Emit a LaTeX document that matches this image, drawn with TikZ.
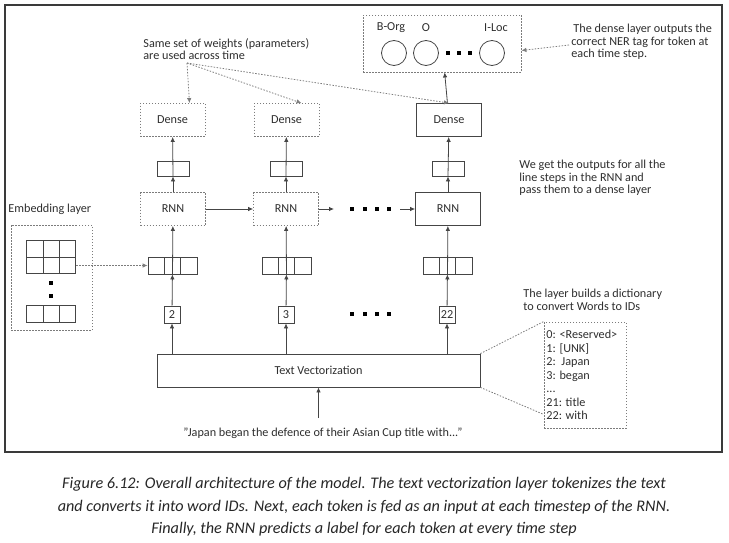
\documentclass[tikz,border=0pt]{standalone}
\usepackage{fontspec}
\setmainfont{Carlito}
\usetikzlibrary{arrows.meta,calc}
\definecolor{linegray}{HTML}{454545}
\definecolor{boxgray}{HTML}{7C7C7C}
\definecolor{textgray}{HTML}{2E2E2E}
\definecolor{framegray}{HTML}{3A3A3A}
\newcommand{\pbb}{path picture bounding box}
\begin{document}
\begin{tikzpicture}[x=1pt, y=-1pt, line width=0.8pt, draw=linegray, text=textgray,
    every node/.style={font=\fontsize{12.2}{12.5}\selectfont, inner sep=0pt},
    layer/.style={rectangle, draw=linegray, minimum width=65pt, minimum height=33pt},
    shared/.style={layer, draw=boxgray, dash pattern=on 1.5pt off 1.5pt},
    outvec/.style={rectangle, draw=linegray, minimum width=32pt, minimum height=15pt},
    vec/.style={rectangle, draw=linegray, minimum width=49pt, minimum height=17pt,
        path picture={
            \draw[linegray] ($(\pbb.north west)!1/3!(\pbb.north east)$) -- ($(\pbb.south west)!1/3!(\pbb.south east)$);
            \draw[linegray] ($(\pbb.north west)!2/3!(\pbb.north east)$) -- ($(\pbb.south west)!2/3!(\pbb.south east)$);}},
    grid/.style={rectangle, draw=linegray, minimum width=49pt, minimum height=33pt,
        path picture={
            \draw[linegray] ($(\pbb.north west)!1/3!(\pbb.north east)$) -- ($(\pbb.south west)!1/3!(\pbb.south east)$);
            \draw[linegray] ($(\pbb.north west)!2/3!(\pbb.north east)$) -- ($(\pbb.south west)!2/3!(\pbb.south east)$);
            \draw[linegray] (\pbb.west) -- (\pbb.east);}},
    token/.style={rectangle, draw=linegray, minimum width=16pt, minimum height=17pt},
    unit/.style={circle, draw=linegray, minimum size=25pt},
    dot/.style={rectangle, fill=black, minimum size=3.2pt},
    note/.style={align=left, anchor=north west},
    arr/.style={-{Latex[length=5pt, width=4.5pt]}},
    hint/.style={arr, dash pattern=on 1.5pt off 1.5pt, draw=boxgray}]

\useasboundingbox (0,0) rectangle (729,543);
\draw[line width=2pt, draw=framegray] (5,5) rectangle (722,452);

% output units
\node[shared, minimum width=158pt, minimum height=57pt] (out) at (442,43.5) {};
\node (borg) at (394,53) [unit] {};
\node (o) at (426,53) [unit] {};
\node (iloc) at (492,53) [unit] {};
\node at (391,28) {B-Org};
\node at (426,28) {O};
\node at (496,28) {I-Loc};
\node[dot] at (448,53) {};
\node[dot] at (459,53) {};
\node[dot] at (470,53) {};

% dense layers
\node[shared] (dense1) at (172.5,120) {Dense};
\node[shared] (dense2) at (286.5,120) {Dense};
\node[layer] (dense3) at (449,120) {Dense};

\node[outvec] (h1) at (173,168.5) {};
\node[outvec] (h2) at (286,168.5) {};
\node[outvec] (h3) at (448,168.5) {};

% rnn cells
\node[shared] (rnn1) at (173,209) {RNN};
\node[shared] (rnn2) at (286,209) {RNN};
\node[layer] (rnn3) at (448,209) {RNN};
\coordinate (gap1) at (334,209);
\coordinate (gap2) at (400,209);
\node[dot] at (352,209) {};
\node[dot] at (365,209) {};
\node[dot] at (377,209) {};
\node[dot] at (389,209) {};

% embeddings
\node[vec] (e1) at (172.5,265.5) {};
\node[vec] (e2) at (286.5,265.5) {};
\node[vec] (e3) at (447.5,265.5) {};

% token ids
\node[token] (t1) at (172,314.5) {2};
\node[token] (t2) at (286,314.5) {3};
\node[token] (t3) at (447,314.5) {22};
\node[dot] at (352,314) {};
\node[dot] at (365,314) {};
\node[dot] at (377,314) {};
\node[dot] at (389,314) {};

\node[rectangle, draw=linegray, minimum width=323pt, minimum height=33pt] (tv) at (318.5,370.5) {Text Vectorization};
\node (input) at (323,433) {"Japan began the defence of their Asian Cup title with..."};
\coordinate (src) at (318.5,418);

% embedding layer
\node[anchor=west] (emblabel) at (8,209) {Embedding layer};
\node[shared, minimum width=81pt, minimum height=105pt] (emb) at (51.5,277.5) {};
\node[grid] (rows) at (51.2,257) {};
\node[dot] at (51,283) {};
\node[dot] at (51,296) {};
\node[vec] (lastrow) at (51.2,314.3) {};

% dictionary
\node[shared, minimum width=82pt, minimum height=106pt] (dict) at (585,375) {};
\node[note, font=\fontsize{12.2}{13.5}\selectfont] (dictxt) at (546,330) {0: <Reserved>\\1: [UNK]\\2:\ \ Japan\\3: began\\...\\21: title\\22: with};

% notes
\node[note] (weights) at (143,38) {Same set of weights (parameters)\\are used across time};
\node[note] (nertxt) at (571,24) {\,The dense layer outputs the\\correct NER tag for token at\\each time step.};
\node[note] (steps) at (519,160) {We get the outputs for all the\\line steps in the RNN and\\pass them to a dense layer};
\node[note] (vocab) at (523,289) {The layer builds a dictionary\\to convert Words to IDs};
\coordinate (w) at (187,63);
\coordinate (ner) at (569,45);

% connectors
\draw[arr] (dense3) -- (out);
\draw[arr] (rnn1) -- (h1);
\draw[arr] (h1.south) -- (dense1);
\draw[arr] (rnn2) -- (h2);
\draw[arr] (h2.south) -- (dense2);
\draw[arr] (rnn3) -- (h3);
\draw[arr] (h3.south) -- (dense3);

\draw[arr] (rnn1) -- (rnn2);
\draw[arr] (rnn2) -- (gap1);
\draw[arr] (gap2) -- (rnn3);

\draw[arr] (e1.south) -- (rnn1);
\draw[arr] (e2.south) -- (rnn2);
\draw[arr] (e3.south) -- (rnn3);
\draw[arr] (t1) -- (e1);
\draw[arr] (t2) -- (e2);
\draw[arr] (t3) -- (e3);
\draw[arr] (t1 |- tv.north) -- (t1);
\draw[arr] (t2 |- tv.north) -- (t2);
\draw[arr] (t3 |- tv.north) -- (t3);
\draw[arr] (src) -- (tv);

\draw[hint] (rows.east |- e1) -- (e1);
\draw[hint] (w) -- ([xshift=17pt]dense1.north);
\draw[hint] (w) -- ([xshift=15pt]dense2.north);
\draw[hint] (w) -- (dense3.north);
\draw[hint] (ner) -- ([yshift=-7pt]out.east);

\draw[draw=boxgray, dash pattern=on 1.5pt off 1.5pt] (tv.north east) -- (dict.north west);
\draw[draw=boxgray, dash pattern=on 1.5pt off 1.5pt] (tv.south east) -- ([yshift=14pt]dict.south west);

% caption
\node[font=\fontsize{16.2}{22.5}\selectfont\itshape, align=center, text=black!85] (caption) at (364,507) {Figure 6.12: Overall architecture of the model. The text vectorization layer tokenizes the text\\and converts it into word IDs. Next, each token is fed as an input at each timestep of the RNN.\\Finally, the RNN predicts a label for each token at every time step};
\end{tikzpicture}
\end{document}
